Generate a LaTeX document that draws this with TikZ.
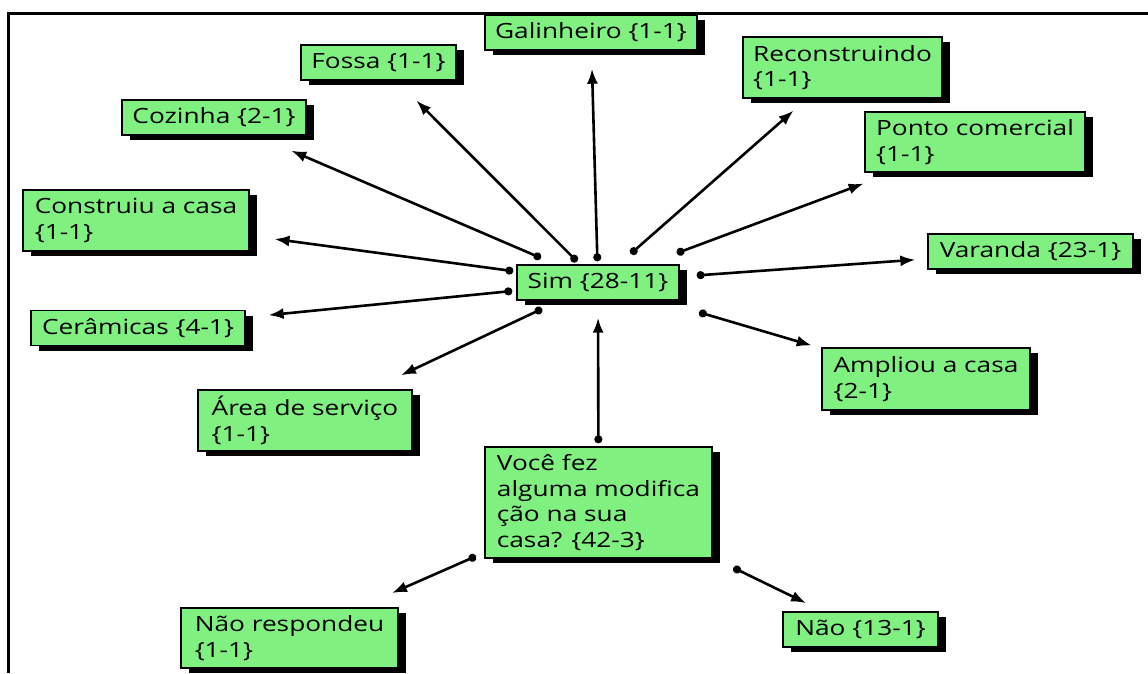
\documentclass[tikz,border=0pt]{standalone}
\usepackage{fontspec}
\setmainfont[FakeStretch=1.25]{Open Sans}
\usepackage{tikz}
\usetikzlibrary{arrows.meta}
\usetikzlibrary{shadows}
\definecolor{codegreen}{RGB}{128,240,128}

\begin{document}
\begin{tikzpicture}[x=1pt,y=-1pt,
  code/.style={draw=black, line width=1.4pt, fill=codegreen, align=left,
    font=\fontsize{21}{25.5}\selectfont, inner xsep=10pt, inner ysep=3pt,
    minimum height=35pt,
    general shadow={fill=black, shadow xshift=8pt, shadow yshift=-5pt}},
  link/.style={line width=2.6pt, {Circle[length=8pt]}-{Latex[length=15pt,width=11pt]}}]

  \useasboundingbox (0,0) rectangle (1148,673);

  % frame (only top and left edges show)
  \draw[line width=3pt] (1148,13) -- (8,13) -- (8,673);

  % centre code and question
  \node[code, minimum width=162pt] (sim) at (598,282.5) {Sim \{28-11\}};
  \node[code, minimum width=227pt, minimum height=111pt] (voce) at (598.5,502.5)
    {Você fez\\alguma modifica\\ção na sua\\casa? \{42-3\}};

  % answers round Sim
  \node[code, minimum width=212pt] (galinheiro) at (591,32.5) {Galinheiro \{1-1\}};
  \node[code, minimum width=155pt] (fossa) at (378.5,62.5) {Fossa \{1-1\}};
  \node[code, minimum width=184pt] (cozinha) at (214,117.5) {Cozinha \{2-1\}};
  \node[code, minimum width=226pt, minimum height=61pt] (construiu) at (136,220.5) {Construiu a casa\\\{1-1\}};
  \node[code, minimum width=214pt] (ceramicas) at (138,328) {Cerâmicas \{4-1\}};
  \node[code, minimum width=214pt, minimum height=61pt] (area) at (305,420.5) {Área de serviço\\\{1-1\}};
  \node[code, minimum width=199pt, minimum height=61pt] (reconstruindo) at (842.5,67.5) {Reconstruindo\\\{1-1\}};
  \node[code, minimum width=220pt, minimum height=60pt] (ponto) at (975,142) {Ponto comercial\\\{1-1\}};
  \node[code, minimum width=205pt] (varanda) at (1030.5,251.5) {Varanda \{23-1\}};
  \node[code, minimum width=208pt, minimum height=62pt] (ampliou) at (926,379) {Ampliou a casa\\\{2-1\}};

  % other answers
  \node[code, minimum width=217pt, minimum height=60pt] (naoresp) at (289.5,638) {Não respondeu\\\{1-1\}};
  \node[code, minimum width=155pt] (nao) at (860.5,629.5) {Não \{13-1\}};

  % links from Sim
  \draw[link, shorten <=3pt, shorten >=18pt] (sim) -- (galinheiro);
  \draw[link, shorten <=4pt, shorten >=28pt] (sim) -- (fossa);
  \draw[link, shorten <=16pt, shorten >=38pt] (sim) -- (cozinha);
  \draw[link, shorten <=3pt, shorten >=25pt] (sim) -- (construiu);
  \draw[link, shorten <=4pt, shorten >=23pt] (sim) -- (ceramicas);
  \draw[link, shorten <=19pt, shorten >=33pt] (sim) -- (area);
  \draw[link, shorten <=16pt, shorten >=18pt] (sim) -- (reconstruindo);
  \draw[link, shorten <=32pt, shorten >=31pt] (sim) -- (ponto);
  \draw[link, shorten <=17pt, shorten >=12pt] (sim) -- (varanda);
  \draw[link, shorten <=41pt, shorten >=10pt] (sim) -- (ampliou);

  % links from the question
  \draw[link, shorten <=3pt, shorten >=17pt] (voce) -- (sim);
  \draw[link, shorten <=9pt, shorten >=35.5pt] (voce) -- (naoresp);
  \draw[link, shorten <=23pt, shorten >=18.7pt] (voce) -- (nao);

\end{tikzpicture}
\end{document}
